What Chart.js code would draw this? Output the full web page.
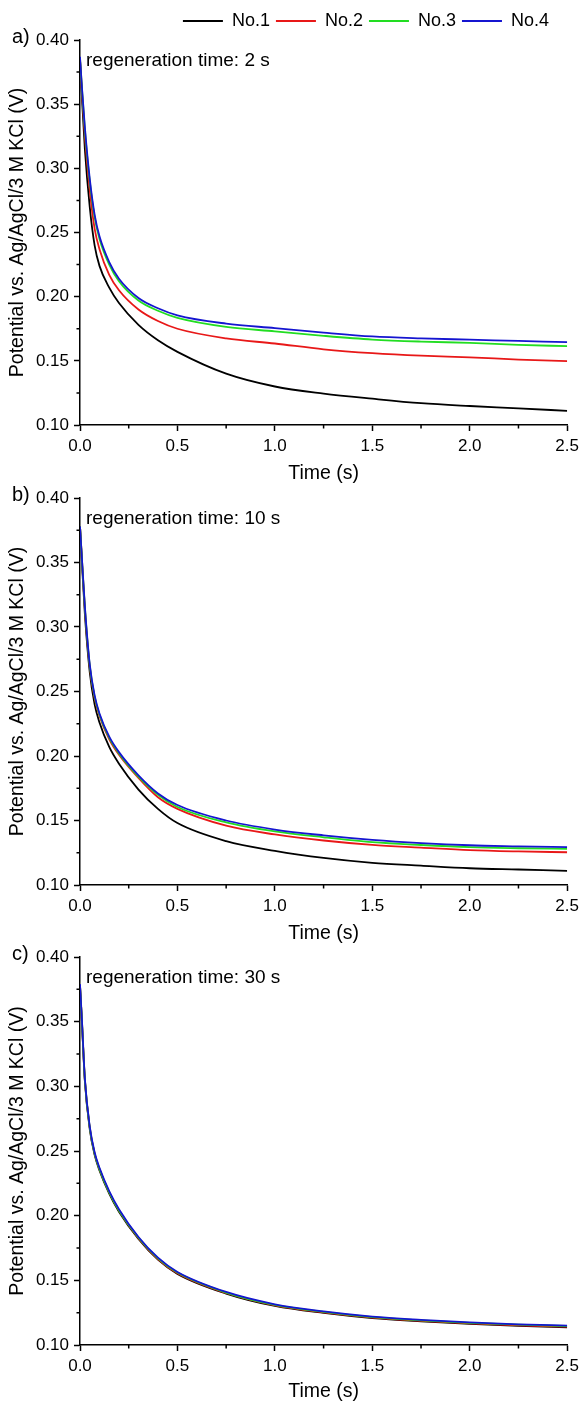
<!DOCTYPE html>
<html>
<head>
<meta charset="utf-8">
<title>Potential decay after regeneration</title>
<script src="https://cdn.jsdelivr.net/npm/chart.js@4.4.1/dist/chart.umd.min.js"></script>
<style>
  html, body { margin: 0; padding: 0; background: #fff; }
  .panel { position: absolute; left: 0; width: 584px; }
  #pa { top: 0; height: 490px; }
  #pb { top: 478px; height: 470px; }
  #pc { top: 937px; height: 466px; }
</style>
</head>
<body>
<div class="panel" id="pa"><canvas id="chartA"></canvas></div>
<div class="panel" id="pb"><canvas id="chartB"></canvas></div>
<div class="panel" id="pc"><canvas id="chartC"></canvas></div>
<script>
// time axis (s), shared by every panel
const times = [0, 0.01, 0.025, 0.05, 0.075, 0.1, 0.15, 0.2, 0.3, 0.4, 0.5, 0.75, 1.0, 1.25, 1.5, 1.75, 2.0, 2.25, 2.5];

const seriesNames = ["No.1", "No.2", "No.3", "No.4"];
const seriesColors = ["#000000", "#e81818", "#22dd22", "#1515d0"];

// a) regeneration time 2 s
const a_no1 = [0.385, 0.355, 0.315, 0.270, 0.240, 0.224, 0.207, 0.195, 0.178, 0.166, 0.157, 0.140, 0.130, 0.1245, 0.1205, 0.117, 0.1148, 0.113, 0.111];
const a_no2 = [0.385, 0.360, 0.325, 0.283, 0.253, 0.237, 0.217, 0.205, 0.190, 0.181, 0.175, 0.1675, 0.1635, 0.159, 0.156, 0.154, 0.1527, 0.151, 0.1497];
const a_no3 = [0.386, 0.362, 0.330, 0.290, 0.262, 0.245, 0.225, 0.212, 0.197, 0.189, 0.1835, 0.1765, 0.173, 0.1695, 0.1666, 0.165, 0.164, 0.1625, 0.1614];
const a_no4 = [0.387, 0.363, 0.332, 0.292, 0.264, 0.247, 0.227, 0.214, 0.199, 0.191, 0.1855, 0.179, 0.1755, 0.172, 0.169, 0.1675, 0.1665, 0.1655, 0.1645];

// b) regeneration time 10 s
const b_no1 = [0.378, 0.350, 0.310, 0.265, 0.240, 0.226, 0.207, 0.194, 0.174, 0.159, 0.148, 0.134, 0.1265, 0.121, 0.1172, 0.115, 0.113, 0.112, 0.111];
const b_no2 = [0.378, 0.352, 0.314, 0.269, 0.245, 0.231, 0.213, 0.201, 0.183, 0.168, 0.159, 0.146, 0.1392, 0.1345, 0.1311, 0.129, 0.127, 0.126, 0.1254];
const b_no3 = [0.378, 0.352, 0.315, 0.270, 0.246, 0.232, 0.214, 0.202, 0.184, 0.170, 0.1605, 0.1485, 0.1415, 0.137, 0.1332, 0.131, 0.1293, 0.1285, 0.128];
const b_no4 = [0.378, 0.353, 0.316, 0.271, 0.247, 0.233, 0.215, 0.203, 0.185, 0.171, 0.162, 0.150, 0.143, 0.1385, 0.135, 0.1325, 0.1308, 0.130, 0.1293];

// c) regeneration time 30 s
const c_no1 = [0.378, 0.349, 0.304, 0.267, 0.247, 0.235, 0.217, 0.203, 0.182, 0.166, 0.155, 0.1398, 0.1302, 0.1248, 0.1208, 0.1183, 0.1163, 0.1148, 0.1137];
const c_no2 = [0.378, 0.350, 0.305, 0.268, 0.248, 0.236, 0.218, 0.204, 0.1825, 0.1665, 0.1555, 0.1402, 0.1306, 0.1252, 0.1212, 0.1187, 0.1167, 0.1152, 0.1142];
const c_no3 = [0.378, 0.350, 0.305, 0.268, 0.248, 0.236, 0.218, 0.204, 0.183, 0.167, 0.156, 0.1405, 0.131, 0.1256, 0.1216, 0.1191, 0.1171, 0.1157, 0.1147];
const c_no4 = [0.379, 0.351, 0.306, 0.269, 0.249, 0.237, 0.219, 0.205, 0.1835, 0.1675, 0.1565, 0.141, 0.1315, 0.126, 0.122, 0.1195, 0.1175, 0.116, 0.115];

// axis ticks
const xMinor = [0.25, 0.75, 1.25, 1.75, 2.25];
const yMinor = [0.125, 0.175, 0.225, 0.275, 0.325, 0.375];

const FONT = "'Liberation Sans', Arial, sans-serif";
Chart.defaults.font.family = FONT;
Chart.defaults.color = "#000";

// short minor ticks on the left and bottom axes
const minorTicks = {
  id: "minorTicks",
  afterDraw(chart) {
    const { ctx, chartArea, scales: { x, y } } = chart;
    ctx.save();
    ctx.strokeStyle = "#000";
    ctx.lineWidth = 1.5;
    ctx.beginPath();
    xMinor.forEach(function (v) {
      const px = x.getPixelForValue(v);
      ctx.moveTo(px, chartArea.bottom);
      ctx.lineTo(px, chartArea.bottom + 3.5);
    });
    yMinor.forEach(function (v) {
      const py = y.getPixelForValue(v);
      ctx.moveTo(chartArea.left, py);
      ctx.lineTo(chartArea.left - 3.5, py);
    });
    ctx.stroke();
    ctx.restore();
  }
};

// panel letter and regeneration note
const panelText = {
  id: "panelText",
  afterDraw(chart, args, opts) {
    const { ctx, chartArea } = chart;
    ctx.save();
    ctx.fillStyle = "#000";
    ctx.textBaseline = "middle";
    ctx.textAlign = "left";
    ctx.font = "20px " + FONT;
    ctx.fillText(opts.tag, 12, chartArea.top - 3);
    ctx.font = "19px " + FONT;
    ctx.fillText(opts.note, chartArea.left + 6, chartArea.top + 21);
    ctx.restore();
  }
};

function makeChart(id, values, tag, note, showLegend, pad, xHeight) {
  const datasets = values.map(function (vals, i) {
    return {
      label: seriesNames[i],
      data: times.map(function (t, k) { return { x: t, y: vals[k] }; }),
      borderColor: seriesColors[i],
      backgroundColor: seriesColors[i],
      borderWidth: 1.8,
      pointRadius: 0,
      fill: false,
      cubicInterpolationMode: "monotone",
      order: 3 - i
    };
  });

  return new Chart(document.getElementById(id), {
    type: "line",
    data: { datasets: datasets },
    plugins: [minorTicks, panelText],
    options: {
      responsive: true,
      maintainAspectRatio: false,
      animation: false,
      layout: { padding: { top: pad.top, bottom: pad.bottom, left: 0, right: 14 } },
      plugins: {
        tooltip: { enabled: false },
        panelText: { tag: tag, note: note },
        legend: {
          display: showLegend,
          position: "top",
          align: "end",
          labels: {
            usePointStyle: true,
            pointStyle: "line",
            pointStyleWidth: 40,
            font: { size: 18 },
            color: "#000",
            padding: 6,
            sort: function (a, b) { return a.datasetIndex - b.datasetIndex; },
            generateLabels: function (chart) {
              const items = Chart.defaults.plugins.legend.labels.generateLabels(chart);
              // keep the row clear of the right edge like the original figure
              items.forEach(function (it) {
                if (it.datasetIndex === seriesNames.length - 1) it.text = it.text + "   ";
              });
              return items;
            }
          }
        }
      },
      scales: {
        x: {
          type: "linear",
          min: 0,
          max: 2.5,
          afterFit: function (s) { s.height = xHeight; },
          ticks: {
            stepSize: 0.5,
            padding: 5,
            font: { size: 17 },
            color: "#000",
            callback: function (v) { return v.toFixed(1); }
          },
          grid: { drawOnChartArea: false, drawTicks: true, tickLength: 6, tickWidth: 1.5, tickColor: "#000" },
          border: { display: true, color: "#000", width: 1.5 },
          title: { display: true, text: "Time (s)", font: { size: 19.5 }, color: "#000", padding: { top: 0, bottom: 0 } }
        },
        y: {
          min: 0.1,
          max: 0.4,
          afterFit: function (s) { s.width = 80; },
          ticks: {
            stepSize: 0.05,
            padding: 5,
            font: { size: 17 },
            color: "#000",
            callback: function (v) { return v.toFixed(2); }
          },
          grid: { drawOnChartArea: false, drawTicks: true, tickLength: 6, tickWidth: 1.5, tickColor: "#000" },
          border: { display: true, color: "#000", width: 1.5 },
          title: { display: true, text: "Potential vs. Ag/AgCl/3 M KCl (V)", font: { size: 19.5 }, color: "#000", padding: { top: 6, bottom: 0 } }
        }
      }
    }
  });
}

makeChart("chartA", [a_no1, a_no2, a_no3, a_no4], "a)", "regeneration time: 2 s", true, { top: 6, bottom: 5 }, 60);
makeChart("chartB", [b_no1, b_no2, b_no3, b_no4], "b)", "regeneration time: 10 s", false, { top: 20, bottom: 3 }, 60);
makeChart("chartC", [c_no1, c_no2, c_no3, c_no4], "c)", "regeneration time: 30 s", false, { top: 20, bottom: 0 }, 58);
</script>
</body>
</html>
